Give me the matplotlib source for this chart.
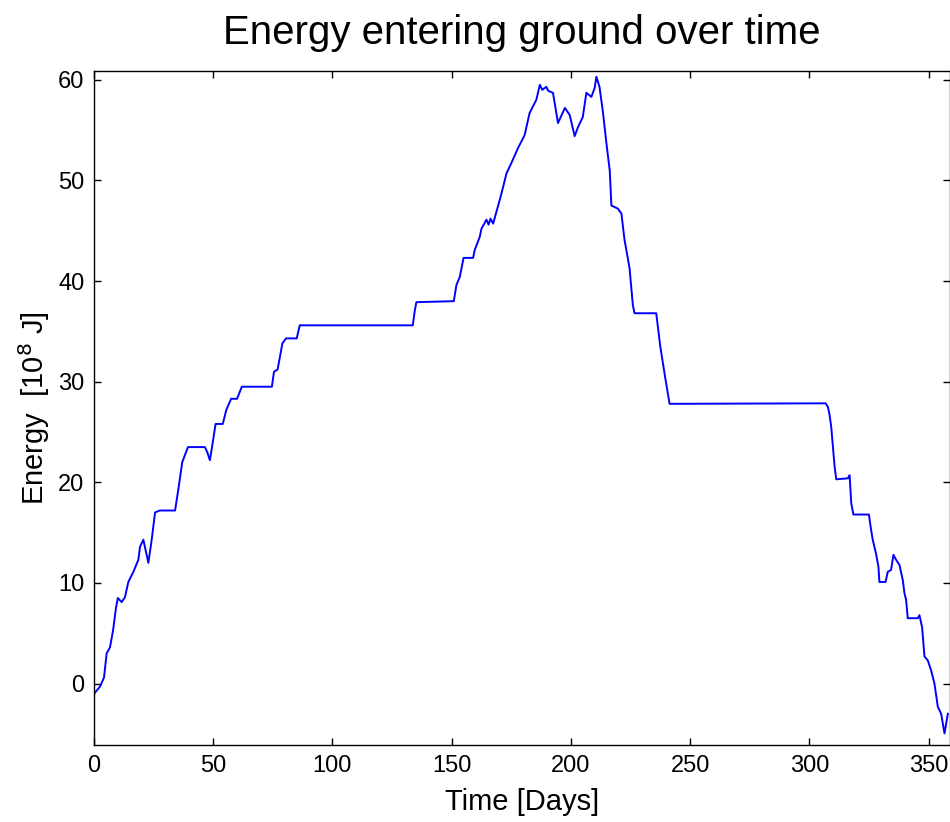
import matplotlib
matplotlib.use("Agg")
import matplotlib.pyplot as plt

plt.rcParams['font.family'] = ['Liberation Sans', 'DejaVu Sans']

days = [0.0, 0.4, 2.5, 4.2, 5.3, 6.7, 8.0, 9.2, 10.0, 11.6, 13.0, 14.4, 16.5, 18.6, 19.3, 20.7,
        22.8, 24.2, 25.6, 27.5, 34.0, 35.5, 37.0, 39.4, 46.5, 47.5, 48.6, 49.5, 51.0, 54.0,
        55.5, 57.5, 60.0, 62.0, 74.6, 75.5, 77.0, 79.0, 80.5, 85.0, 86.3, 133.7, 134.5, 135.2,
        150.9, 152.0, 153.4, 155.0, 159.0, 159.7, 161.8, 162.5, 164.6, 165.5, 166.3, 167.4,
        169.4, 170.9, 173.0, 175.0, 177.8, 180.6, 182.7, 185.5, 187.0, 188.0, 189.7, 190.5,
        192.5, 194.6, 196.7, 197.5, 199.5, 201.6, 203.0, 205.0, 206.5, 208.6, 210.0, 210.7,
        212.0, 213.5, 214.9, 216.3, 217.0, 219.7, 221.2, 222.5, 224.6, 226.0, 226.7, 235.8,
        237.5, 239.5, 241.4, 306.8, 307.8, 308.5, 309.2, 309.9, 310.6, 311.3, 316.2, 316.9,
        317.6, 318.5, 325.0, 325.9, 326.6, 328.0, 329.0, 329.4, 332.0, 332.9, 334.3, 335.3,
        336.4, 337.8, 339.2, 339.9, 340.6, 341.3, 345.5, 346.2, 347.3, 348.3, 349.7, 351.1,
        352.5, 353.9, 355.3, 356.7, 358.1]
energy = [-1.1, -0.9, -0.3, 0.6, 3.0, 3.6, 5.3, 7.5, 8.5, 8.1, 8.6, 10.1, 11.1, 12.3, 13.6, 14.3,
          12.0, 14.3, 17.0, 17.2, 17.2, 19.5, 22.0, 23.5, 23.5, 23.0, 22.2, 23.5, 25.8, 25.8,
          27.2, 28.3, 28.3, 29.5, 29.5, 31.0, 31.2, 33.8, 34.3, 34.3, 35.6, 35.6, 37.0, 37.9,
          38.0, 39.6, 40.4, 42.3, 42.3, 43.1, 44.4, 45.2, 46.1, 45.6, 46.2, 45.7,
          47.4, 48.7, 50.7, 51.7, 53.2, 54.5, 56.7, 58.0, 59.5, 59.0, 59.3, 58.9,
          58.7, 55.7, 56.8, 57.2, 56.5, 54.4, 55.3, 56.3, 58.7, 58.3, 59.2, 60.3,
          59.3, 56.7, 53.7, 51.0, 47.5, 47.2, 46.7, 44.1, 41.3, 37.6, 36.8, 36.8,
          33.5, 30.5, 27.8, 27.85, 27.5, 26.7, 25.5, 23.5, 21.6, 20.3, 20.4, 20.7,
          17.9, 16.8, 16.8, 15.3, 14.3, 12.9, 11.6, 10.1, 10.1, 11.1, 11.3, 12.8,
          12.3, 11.8, 10.3, 9.0, 8.3, 6.5, 6.5, 6.8, 5.6, 2.7, 2.3, 1.3,
          0.0, -2.3, -3.0, -4.95, -3.0]

xticks = [0, 50, 100, 150, 200, 250, 300, 350]
yticks = [0, 10, 20, 30, 40, 50, 60]

fig = plt.figure(figsize=(9.5, 8.22), dpi=100)
ax = fig.add_axes([94/950, 77/822, 855.5/950, (745-70.7)/822])
ax.plot(days, energy, color=(0, 0, 1), linewidth=1.4)
ax.set_xlim(0, 358.8)
ax.set_ylim(-6.1, 60.9)
ax.set_xticks(xticks)
ax.set_yticks(yticks)
ax.tick_params(direction='in', length=5, width=1, top=True, right=True, labelsize=17, pad=7)
for s in ax.spines.values():
    s.set_linewidth(1.0)
ax.set_title('Energy entering ground over time', fontsize=29, pad=19)
ax.set_xlabel('Time [Days]', fontsize=21, labelpad=8)
ax.set_ylabel('Energy  [10$^8$ J]', fontsize=21, labelpad=4)
fig.savefig('out.png', dpi=100)
